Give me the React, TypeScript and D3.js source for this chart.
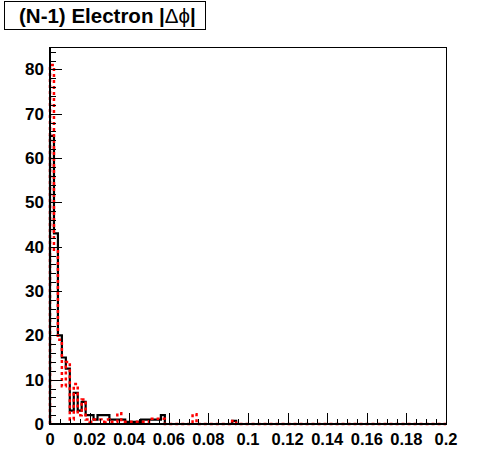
import React from "react";
import * as d3 from "d3";

const NBINS = 100;
const XMIN = 0;
const XMAX = 0.2;

// black solid histogram (bin width 0.002)
const blackValues: number[] = [
  65, 43, 20, 15, 12.5, 3, 7, 3, 5, 2,
  2, 1, 2, 2, 2, 1, 1, 1, 1, 0.5,
  0.5, 0.5, 0.5, 1, 1, 1, 1, 1, 2, 0,
  0, 0, 0, 0, 0, 0, 0, 0, 0, 0,
  0, 0, 0, 0, 0, 0, 0.7, 0, 0, 0,
];
// red dashed histogram
const redValues: number[] = [
  81, 39, 19, 8.5, 14, 1, 9, 2, 5.5, 1,
  0.5, 1, 1, 0.5, 1, 0.5, 0.5, 2.4, 0.5, 0.5,
  0.5, 0.5, 0.5, 0.5, 0.5, 1.2, 1.2, 1.2, 1.2, 0,
  0, 0, 0, 0, 0, 0, 2.2, 0, 0, 0,
  0, 0, 0, 0, 0, 0, 0.7, 0, 0, 0,
];

const xTickLabels = ["0", "0.02", "0.04", "0.06", "0.08", "0.1", "0.12", "0.14", "0.16", "0.18", "0.2"];
const yTickValues = [0, 10, 20, 30, 40, 50, 60, 70, 80];
const YMAX = 85.05;
const titleText = "(N-1) Electron |";

const W = 496;
const H = 472;
const L = 50;
const R = 446;
const T = 47;
const B = 424;
const FONT = "'Liberation Sans', Arial, Helvetica, sans-serif";

function histPath(vals: number[], x: d3.ScaleLinear<number, number>, y: d3.ScaleLinear<number, number>) {
  const bw = (XMAX - XMIN) / NBINS;
  const pts: [number, number][] = [];
  const full = d3.range(NBINS).map((i) => (i < vals.length ? vals[i] : 0));
  pts.push([x(XMIN), y(0)]);
  full.forEach((v, i) => {
    pts.push([x(XMIN + i * bw), y(v)]);
    pts.push([x(XMIN + (i + 1) * bw), y(v)]);
  });
  pts.push([x(XMAX), y(0)]);
  return d3.line()(pts) || "";
}

export default function App() {
  const x = d3.scaleLinear().domain([XMIN, XMAX]).range([L, R]);
  const y = d3.scaleLinear().domain([0, YMAX]).range([B, T]);

  const xMinor = d3.range(0, 41).map((i) => i * 0.005);
  const yMinor = d3.range(0, 43).map((i) => i * 2).filter((v) => v <= YMAX);

  return (
    <svg width={W} height={H} style={{ position: "absolute", left: 0, top: 0, background: "#fff" }}>
      <rect x={0} y={0} width={W} height={H} fill="#fff" />
      {/* frame */}
      <line x1={L} y1={T + 0.5} x2={R} y2={T + 0.5} stroke="#000" strokeWidth={1} />
      <line x1={R + 0.5} y1={T} x2={R + 0.5} y2={B} stroke="#000" strokeWidth={1} />

      {/* histograms */}
      <path d={histPath(blackValues, x, y)} fill="none" stroke="#000" strokeWidth={2.2} />
      <path d={histPath(redValues, x, y)} fill="none" stroke="#ff0000" strokeWidth={2.5} strokeDasharray="3,3" />

      {/* axes lines */}
      <line x1={L} y1={B} x2={R + 1} y2={B} stroke="#000" strokeWidth={2} />
      <line x1={L} y1={T} x2={L} y2={B + 1} stroke="#000" strokeWidth={2} />

      {/* x ticks */}
      {xMinor.map((v, i) => {
        const major = i % 4 === 0;
        const px = Math.round(x(v)) + 0.5;
        return <line key={"xt" + i} x1={px} y1={B} x2={px} y2={B - (major ? 11 : 5)} stroke="#000" strokeWidth={1} />;
      })}
      {xTickLabels.map((t, i) => (
        <text key={"xl" + i} x={x(i * 0.02)} y={445} textAnchor="middle" fontFamily={FONT} fontWeight="bold" fontSize={16.5} fill="#000">
          {t}
        </text>
      ))}

      {/* y ticks */}
      {yMinor.map((v, i) => {
        const major = v % 10 === 0;
        const py = Math.round(y(v)) + 0.5;
        return <line key={"yt" + i} x1={L} y1={py} x2={L + (major ? 12 : 6)} y2={py} stroke="#000" strokeWidth={1} />;
      })}
      {yTickValues.map((v) => (
        <text key={"yl" + v} x={44} y={y(v) + 6} textAnchor="end" fontFamily={FONT} fontWeight="bold" fontSize={17} fill="#000">
          {v}
        </text>
      ))}

      {/* title */}
      <rect x={4.5} y={1.5} width={201} height={28} fill="#fff" stroke="#000" strokeWidth={1} />
      <text x={19} y={23} fontFamily={FONT} fontWeight="bold" fontSize={20.5} fill="#000">
        {titleText}
        <tspan fontWeight="normal">Δϕ</tspan>
        |
      </text>
    </svg>
  );
}
